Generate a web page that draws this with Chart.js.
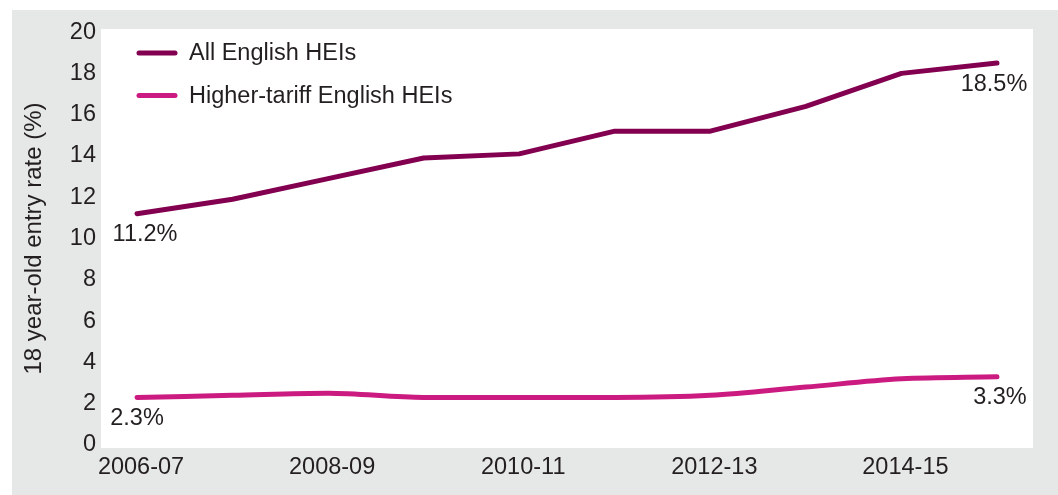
<!DOCTYPE html>
<html>
<head>
<meta charset="utf-8">
<script src="https://cdn.jsdelivr.net/npm/chart.js@4.4.1/dist/chart.umd.min.js"></script>
<style>
    html, body { margin: 0; padding: 0; background: #ffffff; }
    #wrap { width: 1058px; height: 495px; position: relative; }
</style>
</head>
<body>
<div id="wrap"><canvas id="myChart"></canvas></div>
<script>
const periods = ['2006-07', '2007-08', '2008-09', '2009-10', '2010-11', '2011-12', '2012-13', '2013-14', '2014-15', '2015-16'];
const allHEIs = [11.2, 11.9, 12.9, 13.9, 14.1, 15.2, 15.2, 16.4, 18.0, 18.5];
const higherTariff = [2.3, 2.4, 2.5, 2.3, 2.3, 2.3, 2.4, 2.8, 3.2, 3.3];
const yTicks = [0, 2, 4, 6, 8, 10, 12, 14, 16, 18, 20];
const xTicks = [0, 2, 4, 6, 8];

const seriesNames = ['All English HEIs', 'Higher-tariff English HEIs'];
const seriesColors = ['#830050', '#cc1b80'];

const textColor = '#231f20';
const fontFamily = '"Liberation Sans", Arial, Helvetica, sans-serif';
const fontSize = 23.5;

document.addEventListener('DOMContentLoaded', function () {
    const toPoints = (values) => values.map((v, i) => ({ x: i, y: v }));

    // grey frame behind everything, white plotting area on top
    const backdrop = {
        id: 'backdrop',
        beforeDraw(chart) {
            const { ctx, chartArea } = chart;
            ctx.save();
            ctx.fillStyle = '#e6e7e7';
            ctx.fillRect(12, 10, chart.width - 12, chart.height - 10);
            ctx.fillStyle = '#ffffff';
            ctx.fillRect(chartArea.left, chartArea.top, chartArea.right - chartArea.left, chartArea.bottom - chartArea.top);
            ctx.restore();
        }
    };

    // legend drawn inside the plot, top-left
    const insideLegend = {
        id: 'insideLegend',
        afterDraw(chart) {
            const { ctx, chartArea } = chart;
            ctx.save();
            ctx.font = fontSize + 'px ' + fontFamily;
            ctx.textBaseline = 'middle';
            ctx.lineCap = 'round';
            ctx.lineWidth = 5;
            chart.data.datasets.forEach((ds, i) => {
                const y = chartArea.top + 24 + i * 42.5;
                const x0 = chartArea.left + 38;
                ctx.strokeStyle = ds.borderColor;
                ctx.beginPath();
                ctx.moveTo(x0, y);
                ctx.lineTo(x0 + 36, y);
                ctx.stroke();
                ctx.fillStyle = textColor;
                ctx.fillText(ds.label, x0 + 50, y + 1);
            });
            ctx.restore();
        }
    };

    // first and last value of each line, written under the line end
    const endLabels = {
        id: 'endLabels',
        afterDatasetsDraw(chart) {
            const { ctx } = chart;
            ctx.save();
            ctx.font = fontSize + 'px ' + fontFamily;
            ctx.fillStyle = textColor;
            ctx.textAlign = 'center';
            ctx.textBaseline = 'middle';
            chart.data.datasets.forEach((ds, i) => {
                const pts = chart.getDatasetMeta(i).data;
                const last = pts.length - 1;
                [[0, i === 0 ? 8 : 0], [last, i === 0 ? -3 : 3]].forEach(([idx, dx]) => {
                    const p = pts[idx];
                    ctx.fillText(ds.data[idx].y.toFixed(1) + '%', p.x + dx, p.y + 21);
                });
            });
            ctx.restore();
        }
    };

    const ctx = document.getElementById('myChart');
    new Chart(ctx, {
        type: 'line',
        data: {
            datasets: [{
                label: seriesNames[0],
                data: toPoints(allHEIs),
                borderColor: seriesColors[0],
                borderWidth: 5,
                borderCapStyle: 'round',
                borderJoinStyle: 'round',
                pointRadius: 0,
                tension: 0
            }, {
                label: seriesNames[1],
                data: toPoints(higherTariff),
                borderColor: seriesColors[1],
                borderWidth: 5,
                borderCapStyle: 'round',
                borderJoinStyle: 'round',
                pointRadius: 0,
                cubicInterpolationMode: 'monotone'
            }]
        },
        options: {
            responsive: true,
            maintainAspectRatio: false,
            animation: false,
            layout: { padding: { left: 0, top: 29, right: 25, bottom: 0 } },
            plugins: {
                legend: { display: false },
                tooltip: { enabled: false }
            },
            scales: {
                x: {
                    type: 'linear',
                    min: -0.377,
                    max: 9.377,
                    grid: { display: false, drawTicks: false },
                    border: { display: false },
                    afterBuildTicks: (scale) => { scale.ticks = xTicks.map(v => ({ value: v })); },
                    afterFit: (scale) => { scale.height = 47; },
                    ticks: {
                        autoSkip: false,
                        maxRotation: 0,
                        padding: 5,
                        labelOffset: 4,
                        color: textColor,
                        font: { family: fontFamily, size: fontSize },
                        callback: (value) => periods[value]
                    }
                },
                y: {
                    min: -0.15,
                    max: 20.15,
                    grid: { display: false, drawTicks: false },
                    border: { display: false },
                    afterBuildTicks: (scale) => { scale.ticks = yTicks.map(v => ({ value: v })); },
                    afterFit: (scale) => { scale.width = 101; },
                    ticks: {
                        padding: 5,
                        color: textColor,
                        font: { family: fontFamily, size: fontSize }
                    },
                    title: {
                        display: true,
                        text: '18 year-old entry rate (%)',
                        color: textColor,
                        font: { family: fontFamily, size: 24 },
                        padding: { top: 20, bottom: 0 }
                    }
                }
            }
        },
        plugins: [backdrop, insideLegend, endLabels]
    });
});
</script>
</body>
</html>
